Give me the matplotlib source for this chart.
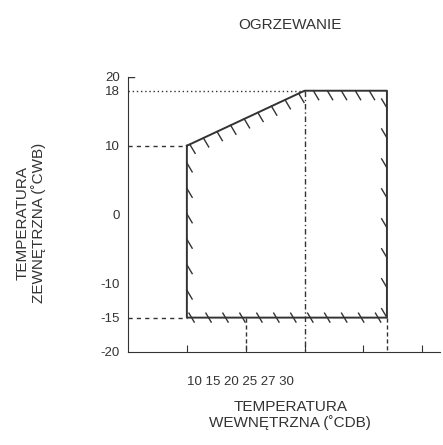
import numpy as np
import matplotlib.pyplot as plt

plt.rcParams['font.family'] = ['Liberation Sans', 'DejaVu Sans']

# operating envelope (x in axis units, y in deg C)
poly_x = [10, 30, 44, 44, 10, 10]
poly_y = [10, 18, 18, -15, -15, 10]
x_ticks = [10, 20, 30, 40, 50]
y_ticks = [20, 18, 10, 0, -10, -15, -20]
x_label_text = "10 15 20 25 27 30"

fig = plt.figure(figsize=(4.43, 4.45), dpi=100)
ax = fig.add_axes([0.289, 0.209, 0.704, 0.618])
c = '#333333'
ax.plot(poly_x, poly_y, color=c, lw=1.4)

# hatch ticks on the inside of the envelope
dx, dy = 0.9, -1.3
def hatch(x0, y0, x1, y1, n, mode):
    for t in np.linspace(0, 1, n):
        x = x0 + (x1 - x0) * t
        y = y0 + (y1 - y0) * t
        if mode == 'out':
            ax.plot([x, x + dx], [y, y + dy], color=c, lw=1)
        elif mode == 'in':
            ax.plot([x - dx, x], [y - dy, y], color=c, lw=1)
        else:
            ax.plot([x - dx / 2, x + dx / 2], [y - dy / 2, y + dy / 2], color=c, lw=1)

hatch(10.5, 10.2, 29, 17.6, 9, 'out')
hatch(31.5, 18, 41, 18, 5, 'out')
hatch(10, 7.5, 10, -11, 6, 'out')
hatch(44, 15.5, 44, -15, 8, 'in')
hatch(10.8, -15, 42.5, -15, 12, 'cross')

# guide lines
ax.plot([0, 10], [10, 10], color=c, lw=1, ls=(0, (3, 3)))
ax.plot([0, 10], [-15, -15], color=c, lw=1, ls=(0, (3, 3)))
ax.plot([0, 30], [18, 18], color=c, lw=1, ls=(0, (1, 2)))
ax.plot([30, 30], [18, -20], color=c, lw=1, ls=(0, (4, 2, 1, 2)))
ax.plot([20, 20], [-15, -20], color=c, lw=1, ls=(0, (3, 2)))
ax.plot([44, 44], [-15, -20], color=c, lw=1, ls=(0, (3, 2)))
ax.plot([0, 1], [20, 20], color=c, lw=1)

ax.set_xlim(0, 53)
ax.set_ylim(-20, 20)
for s in ['top', 'right']:
    ax.spines[s].set_visible(False)
for s in ['left', 'bottom']:
    ax.spines[s].set_color(c)
ax.set_xticks(x_ticks)
ax.set_xticklabels([])
ax.tick_params(axis='x', direction='in', length=5, color=c)
ax.set_yticks(y_ticks)
ax.set_yticklabels([str(v) for v in y_ticks], fontsize=9.5, color=c)
ax.tick_params(axis='y', length=0, pad=6, labelright=False)

ax.text(10, -23.5, x_label_text, fontsize=9.5, color=c, ha='left', va='top')
fig.text(0.655, 0.935, "OGRZEWANIE", fontsize=11, color=c, ha='center')
fig.text(0.655, 0.04, "TEMPERATURA\nWEWNĘTRZNA (˚CDB)", fontsize=11, color=c,
         ha='center', linespacing=1.1)
fig.text(0.07, 0.50, "TEMPERATURA\nZEWNĘTRZNA (˚CWB)", fontsize=11, color=c,
         ha='center', va='center', rotation=90, linespacing=1.1)

fig.savefig('out.png', dpi=100)
